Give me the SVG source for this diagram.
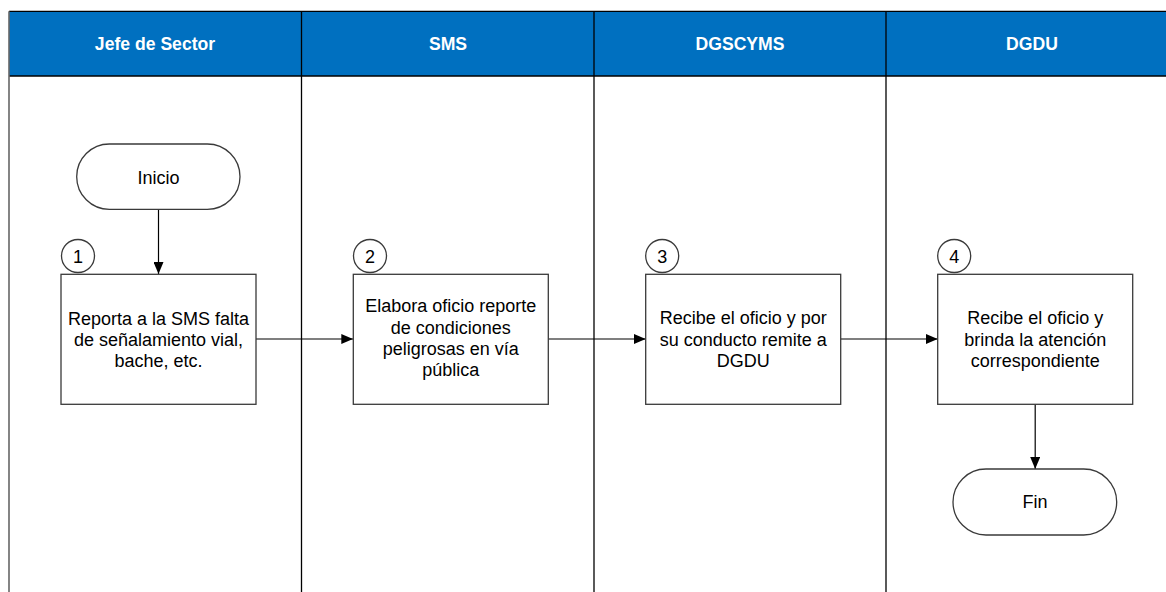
<svg xmlns="http://www.w3.org/2000/svg" width="1166" height="592" viewBox="0 0 1166 592">
<style>
.hdr{fill:#0070C0;}
.htxt{font-family:"Liberation Sans",Arial,sans-serif;font-size:17.6px;font-weight:bold;fill:#ffffff;text-anchor:middle;}
.lane{stroke:#000;stroke-width:1.3;fill:none;}
.box{fill:#ffffff;stroke:#3a3a3a;stroke-width:1.3;}
.txt{font-family:"Liberation Sans",Arial,sans-serif;font-size:18px;fill:#000;text-anchor:middle;}
.conn{stroke:#000;stroke-width:1.2;fill:none;marker-end:url(#arr);}
</style>
<defs>
<marker id="arr" markerWidth="12" markerHeight="10" refX="12" refY="5" orient="auto" markerUnits="userSpaceOnUse">
<path d="M0,0 L12,5 L0,10 Z" fill="#000"/>
</marker>
</defs>
<rect width="1166" height="592" fill="#ffffff"/>
<g id="lanes">
<rect class="hdr" x="9" y="11.3" width="1170" height="64.7"/>
<line class="lane" x1="9" y1="11.3" x2="1166" y2="11.3"/>
<line class="lane" x1="9" y1="76" x2="1166" y2="76"/>
<line x1="9" y1="11.3" x2="9" y2="592" stroke="#666" stroke-width="1.6"/>
<line class="lane" x1="301.5" y1="11.3" x2="301.5" y2="592"/>
<line class="lane" x1="594" y1="11.3" x2="594" y2="592"/>
<line class="lane" x1="886" y1="11.3" x2="886" y2="592"/>
<text class="htxt" x="155" y="50">Jefe de Sector</text>
<text class="htxt" x="448" y="50">SMS</text>
<text class="htxt" x="740" y="50">DGSCYMS</text>
<text class="htxt" x="1032" y="50">DGDU</text>
</g>
<g id="connectors">
<line class="conn" x1="158.5" y1="209.3" x2="158.5" y2="274"/>
<line class="conn" x1="256" y1="339" x2="353.3" y2="339"/>
<line class="conn" x1="548.3" y1="339" x2="645.7" y2="339"/>
<line class="conn" x1="840.7" y1="339" x2="937.7" y2="339"/>
<line class="conn" x1="1035.2" y1="404.3" x2="1035.2" y2="469"/>
</g>
<g id="inicio">
<rect class="box" x="76.7" y="144" width="163.3" height="65.3" rx="32.65" ry="32.65"/>
<text class="txt" x="158.4" y="183.5">Inicio</text>
</g>
<g id="step1">
<circle class="box" cx="78" cy="256" r="16.5"/>
<text class="txt" x="78" y="262.5">1</text>
<rect class="box" x="61" y="274.3" width="195" height="130"/>
<text class="txt" x="158.5" y="325">Reporta a la SMS falta</text>
<text class="txt" x="158.5" y="346">de señalamiento vial,</text>
<text class="txt" x="158.5" y="367">bache, etc.</text>
</g>
<g id="step2">
<circle class="box" cx="370" cy="256" r="16.5"/>
<text class="txt" x="370" y="262.5">2</text>
<rect class="box" x="353.3" y="274.3" width="195" height="130"/>
<text class="txt" x="450.8" y="312.3">Elabora oficio reporte</text>
<text class="txt" x="450.8" y="333.6">de condiciones</text>
<text class="txt" x="450.8" y="355">peligrosas en vía</text>
<text class="txt" x="450.8" y="376.3">pública</text>
</g>
<g id="step3">
<circle class="box" cx="662.2" cy="256" r="16.5"/>
<text class="txt" x="662.2" y="262.5">3</text>
<rect class="box" x="645.7" y="274.3" width="195" height="130"/>
<text class="txt" x="743.2" y="324.3">Recibe el oficio y por</text>
<text class="txt" x="743.2" y="345.5">su conducto remite a</text>
<text class="txt" x="743.2" y="366.7">DGDU</text>
</g>
<g id="step4">
<circle class="box" cx="954.2" cy="256" r="16.5"/>
<text class="txt" x="954.2" y="262.5">4</text>
<rect class="box" x="937.7" y="274.3" width="195" height="130"/>
<text class="txt" x="1035.2" y="324.3">Recibe el oficio y</text>
<text class="txt" x="1035.2" y="345.5">brinda la atención</text>
<text class="txt" x="1035.2" y="366.7">correspondiente</text>
</g>
<g id="fin">
<rect class="box" x="953" y="469" width="163.7" height="66" rx="33" ry="33"/>
<text class="txt" x="1035" y="507.7">Fin</text>
</g>
</svg>
